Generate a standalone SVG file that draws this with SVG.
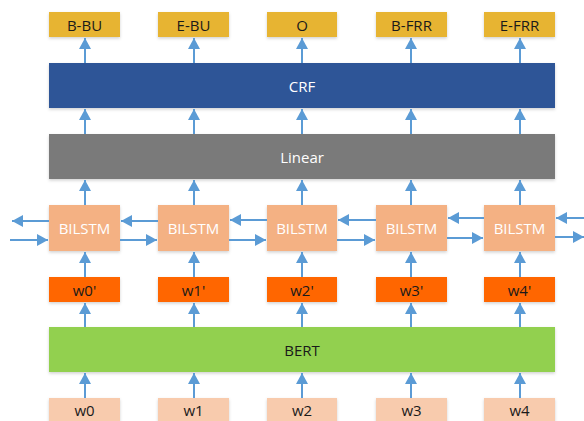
<svg xmlns="http://www.w3.org/2000/svg" width="584" height="421" viewBox="0 0 584 421">
<defs>
<marker id="ah" markerWidth="12" markerHeight="12" viewBox="0 0 12 12" refX="11" refY="6" orient="auto" markerUnits="userSpaceOnUse">
<path d="M0,0 L11,6 L0,12 Z" fill="#5B9BD5"/>
</marker>
<filter id="sh" x="-10%" y="-20%" width="120%" height="150%">
<feDropShadow dx="0" dy="1.5" stdDeviation="1.5" flood-color="#000" flood-opacity="0.18"/>
</filter>
<style>
.lbl{fill:#E7B432;filter:url(#sh)}
.crf{fill:#2F5597;filter:url(#sh)}
.lin{fill:#7A7A7A;filter:url(#sh)}
.lstm{fill:#F4B183;filter:url(#sh)}
.wp{fill:#FF6600;filter:url(#sh)}
.bert{fill:#92D050;filter:url(#sh)}
.w{fill:#F8CBAD;filter:url(#sh)}
text{font-family:"Open Sans","Noto Sans","Liberation Sans",sans-serif;font-size:15px;text-anchor:middle;dominant-baseline:central}
.dk{fill:#1a1a1a}
.wt{fill:#ffffff}
.c line{stroke:#5B9BD5;stroke-width:2;marker-end:url(#ah)}
</style>
</defs>
<rect width="584" height="421" fill="#ffffff"/>

<g id="label-B-BU"><rect class="lbl" x="49" y="12" width="71" height="25"/><text class="dk" x="84.5" y="24.5">B-BU</text></g>
<g id="label-E-BU"><rect class="lbl" x="158" y="12" width="71" height="25"/><text class="dk" x="193.5" y="24.5">E-BU</text></g>
<g id="label-O"><rect class="lbl" x="267" y="12" width="70" height="25"/><text class="dk" x="302" y="24.5">O</text></g>
<g id="label-B-FRR"><rect class="lbl" x="376" y="12" width="71" height="25"/><text class="dk" x="411.5" y="24.5">B-FRR</text></g>
<g id="label-E-FRR"><rect class="lbl" x="484" y="12" width="71" height="25"/><text class="dk" x="519.5" y="24.5">E-FRR</text></g>

<g id="crf"><rect class="crf" x="49" y="63" width="506" height="45"/><text class="wt" x="302" y="85.5">CRF</text></g>
<g id="linear"><rect class="lin" x="49" y="134" width="506" height="45"/><text class="wt" x="302" y="156.5">Linear</text></g>

<g id="bilstm0"><rect class="lstm" x="49" y="205" width="71" height="46"/><text class="wt" x="84.5" y="228">BILSTM</text></g>
<g id="bilstm1"><rect class="lstm" x="158" y="205" width="71" height="46"/><text class="wt" x="193.5" y="228">BILSTM</text></g>
<g id="bilstm2"><rect class="lstm" x="267" y="205" width="70" height="46"/><text class="wt" x="302" y="228">BILSTM</text></g>
<g id="bilstm3"><rect class="lstm" x="376" y="205" width="71" height="46"/><text class="wt" x="411.5" y="228">BILSTM</text></g>
<g id="bilstm4"><rect class="lstm" x="484" y="205" width="71" height="46"/><text class="wt" x="519.5" y="228">BILSTM</text></g>

<g id="wp0"><rect class="wp" x="49" y="277" width="71" height="25"/><text class="dk" x="84.5" y="289.5">w0'</text></g>
<g id="wp1"><rect class="wp" x="158" y="277" width="71" height="25"/><text class="dk" x="193.5" y="289.5">w1'</text></g>
<g id="wp2"><rect class="wp" x="267" y="277" width="70" height="25"/><text class="dk" x="302" y="289.5">w2'</text></g>
<g id="wp3"><rect class="wp" x="376" y="277" width="71" height="25"/><text class="dk" x="411.5" y="289.5">w3'</text></g>
<g id="wp4"><rect class="wp" x="484" y="277" width="71" height="25"/><text class="dk" x="519.5" y="289.5">w4'</text></g>

<g id="bert"><rect class="bert" x="49" y="327" width="506" height="45"/><text class="dk" x="302" y="349.5">BERT</text></g>

<g id="w0"><rect class="w" x="49" y="398" width="71" height="30"/><text class="dk" x="84.5" y="410">w0</text></g>
<g id="w1"><rect class="w" x="158" y="398" width="71" height="30"/><text class="dk" x="193.5" y="410">w1</text></g>
<g id="w2"><rect class="w" x="267" y="398" width="70" height="30"/><text class="dk" x="302" y="410">w2</text></g>
<g id="w3"><rect class="w" x="376" y="398" width="71" height="30"/><text class="dk" x="411.5" y="410">w3</text></g>
<g id="w4"><rect class="w" x="484" y="398" width="71" height="30"/><text class="dk" x="519.5" y="410">w4</text></g>

<g id="connectors" class="c">
<line x1="85" y1="63" x2="85" y2="38"/>
<line x1="194" y1="63" x2="194" y2="38"/>
<line x1="302" y1="63" x2="302" y2="38"/>
<line x1="411" y1="63" x2="411" y2="38"/>
<line x1="520" y1="63" x2="520" y2="38"/>
<line x1="85" y1="134" x2="85" y2="109"/>
<line x1="194" y1="134" x2="194" y2="109"/>
<line x1="302" y1="134" x2="302" y2="109"/>
<line x1="411" y1="134" x2="411" y2="109"/>
<line x1="520" y1="134" x2="520" y2="109"/>
<line x1="85" y1="205" x2="85" y2="180"/>
<line x1="194" y1="205" x2="194" y2="180"/>
<line x1="302" y1="205" x2="302" y2="180"/>
<line x1="411" y1="205" x2="411" y2="180"/>
<line x1="520" y1="205" x2="520" y2="180"/>
<line x1="85" y1="277" x2="85" y2="252"/>
<line x1="194" y1="277" x2="194" y2="252"/>
<line x1="302" y1="277" x2="302" y2="252"/>
<line x1="411" y1="277" x2="411" y2="252"/>
<line x1="520" y1="277" x2="520" y2="252"/>
<line x1="85" y1="327" x2="85" y2="303"/>
<line x1="194" y1="327" x2="194" y2="303"/>
<line x1="302" y1="327" x2="302" y2="303"/>
<line x1="411" y1="327" x2="411" y2="303"/>
<line x1="520" y1="327" x2="520" y2="303"/>
<line x1="85" y1="398" x2="85" y2="373"/>
<line x1="194" y1="398" x2="194" y2="373"/>
<line x1="302" y1="398" x2="302" y2="373"/>
<line x1="411" y1="398" x2="411" y2="373"/>
<line x1="520" y1="398" x2="520" y2="373"/>
<line x1="49" y1="221" x2="12" y2="221"/>
<line x1="158" y1="221" x2="121" y2="221"/>
<line x1="267" y1="220" x2="230" y2="220"/>
<line x1="376" y1="220" x2="338" y2="220"/>
<line x1="484" y1="218" x2="448" y2="218"/>
<line x1="584" y1="218" x2="556" y2="218"/>
<line x1="10" y1="240" x2="48" y2="240"/>
<line x1="120" y1="240" x2="157" y2="240"/>
<line x1="229" y1="240" x2="266" y2="240"/>
<line x1="337" y1="240" x2="375" y2="240"/>
<line x1="447" y1="238" x2="483" y2="238"/>
<line x1="555" y1="237" x2="584" y2="237"/>
</g>
</svg>
